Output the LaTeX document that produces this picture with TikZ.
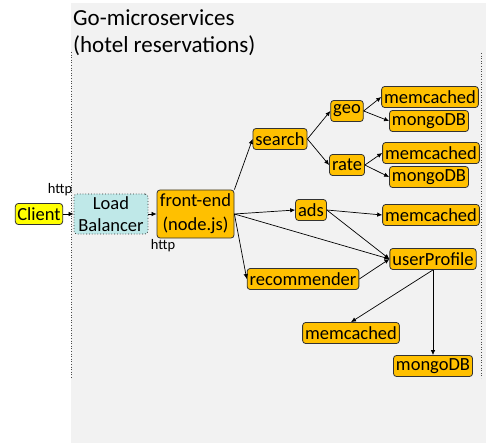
\documentclass[tikz,border=0pt]{standalone}
\usepackage{fontspec}
\setmainfont{Carlito}
\usepackage{tikz}
\usetikzlibrary{arrows.meta}
\usepackage{xcolor}
\definecolor{bggray}{HTML}{F2F2F2}
\definecolor{svcorange}{HTML}{FFC000}
\definecolor{clientyellow}{HTML}{FFFF00}
\definecolor{lbcyan}{HTML}{BFE8E8}
\tikzstyle{box}=[draw=black!80, line width=0.8pt, rounded corners=3pt, inner xsep=2.5pt, inner ysep=1pt, minimum height=21pt, align=center, font=\fontsize{18.5}{23}\selectfont]
\tikzstyle{svc}=[box, fill=svcorange]
\tikzstyle{conn}=[-{Latex[length=5pt,width=4.5pt]}, line width=0.7pt]
\tikzstyle{lbl}=[inner sep=0pt, font=\fontsize{14.5}{16}\selectfont]

\begin{document}
\begin{tikzpicture}[x=1pt,y=-1pt]
\useasboundingbox (0,0) rectangle (486,443);
\fill[bggray] (71,3) rectangle (486,443);
\draw[dotted, black!70, line width=0.6pt] (71,52) -- (71,378);
\draw[dotted, black!70, line width=0.6pt] (481,53) -- (481,378);
\node[anchor=west, inner sep=0pt, align=left, font=\fontsize{23}{27}\selectfont] (title) at (73,33) {Go-microservices\\(hotel reservations)};

% entry side
\node[box, fill=clientyellow, inner xsep=2pt] (client) at (39,214) {Client};
\node[box, fill=lbcyan, dotted, minimum width=74pt, minimum height=40pt, font=\fontsize{18.5}{22}\selectfont] (lb) at (111,214) {Load\\Balancer};
\node[svc, minimum width=77pt, minimum height=48pt, font=\fontsize{18.5}{24}\selectfont] (fe) at (195.5,214) {front-end\\(node.js)};
\node[lbl] (http1) at (60,190) {http};
\node[lbl] (http2) at (163,246) {http};

% services
\node[svc] (search) at (280,139) {search};
\node[svc] (geo) at (347,111) {geo};
\node[svc] (rate) at (347,165) {rate};
\node[svc] (ads) at (311,210) {ads};
\node[svc] (rec) at (303,279) {recommender};
\node[svc] (user) at (433,259) {userProfile};

% storage
\node[svc] (geomc) at (430,97) {memcached};
\node[svc] (geodb) at (429,121) {mongoDB};
\node[svc] (ratemc) at (431,153) {memcached};
\node[svc] (ratedb) at (429,177) {mongoDB};
\node[svc] (adsmc) at (431,215) {memcached};
\node[svc] (usermc) at (351,333) {memcached};
\node[svc] (userdb) at (433,366) {mongoDB};

\draw[conn] (client) -- (lb);
\draw[conn] (lb) -- (fe);
\draw[conn] (fe.north east) -- (search.west);
\draw[conn] (fe.east) -- (ads.west);
\draw[conn] (fe.east) -- (user.west);
\draw[conn] (fe.east) -- (rec.west);
\foreach \a/\b in {search/geo, search/rate, geo/geomc, geo/geodb, rate/ratemc, rate/ratedb, ads/adsmc, ads/user, rec/user} {
	\draw[conn] (\a.east) -- (\b.west);
}
\draw[conn] (user.south) -- (usermc.north);
\draw[conn] (user.south) -- (userdb.north);
\end{tikzpicture}
\end{document}
